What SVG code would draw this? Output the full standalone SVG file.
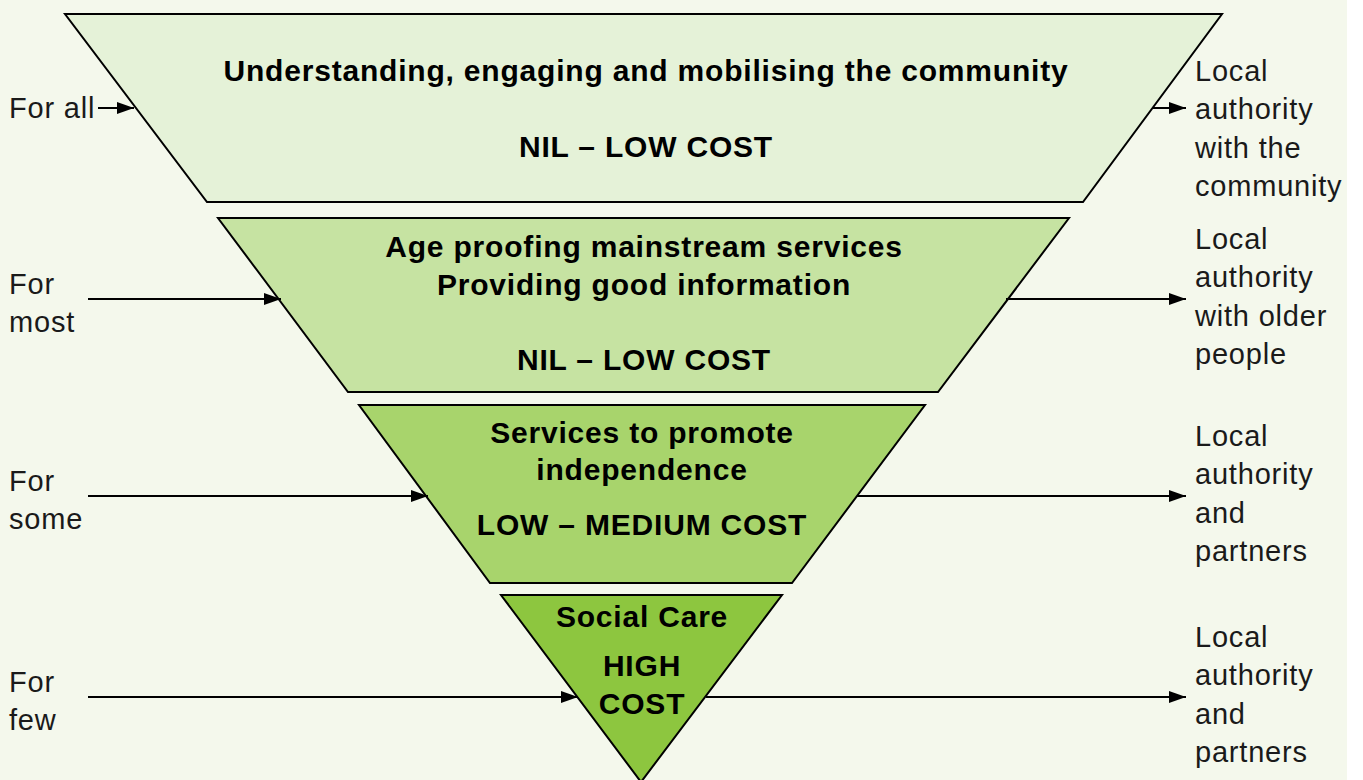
<svg xmlns="http://www.w3.org/2000/svg" width="1363" height="780" viewBox="0 0 1363 780">
<defs>
<marker id="ah" viewBox="0 0 17 12" refX="17" refY="6" markerWidth="17" markerHeight="12" markerUnits="userSpaceOnUse" orient="auto">
<path d="M0,0 L17,6 L0,12 Z" fill="#000"/>
</marker>
<style>
.tier{stroke:#000;stroke-width:2;stroke-linejoin:miter}
.t{font-family:"Liberation Sans",Arial,sans-serif;font-weight:bold;font-size:30px;letter-spacing:0.8px;text-anchor:middle;fill:#000}
.l{font-family:"Liberation Sans",Arial,sans-serif;font-size:29px;letter-spacing:0.8px;fill:#1a1a1a}
.c{stroke:#000;stroke-width:2;fill:none;marker-end:url(#ah)}
</style>
</defs>
<rect x="0" y="0" width="1363" height="780" fill="#fff"/>
<rect x="0" y="0" width="1347" height="780" fill="#f4f8ec"/>
<g id="tier1">
<polygon class="tier" points="65,14 1222,14 1083,202 207,202" fill="#e5f2d8"/>
<text class="t" x="646" y="81">Understanding, engaging and mobilising the community</text>
<text class="t" x="646" y="157">NIL – LOW COST</text>
</g>
<g id="tier2">
<polygon class="tier" points="218,218 1069,218 938,392 348,392" fill="#c6e3a2"/>
<text class="t" x="644" y="257">Age proofing mainstream services</text>
<text class="t" x="644" y="295">Providing good information</text>
<text class="t" x="644" y="370">NIL – LOW COST</text>
</g>
<g id="tier3">
<polygon class="tier" points="359,405 925,405 792,583 490,583" fill="#a8d46c"/>
<text class="t" x="642" y="443">Services to promote</text>
<text class="t" x="642" y="480">independence</text>
<text class="t" x="642" y="535">LOW – MEDIUM COST</text>
</g>
<g id="tier4">
<polygon class="tier" points="501,595 782,595 641,782" fill="#8dc63f"/>
<text class="t" x="642" y="627">Social Care</text>
<text class="t" x="642" y="676">HIGH</text>
<text class="t" x="642" y="714">COST</text>
</g>
<g id="left-labels">
<text class="l" x="9" y="118">For all</text>
<text class="l" x="9" y="294">For</text>
<text class="l" x="9" y="332">most</text>
<text class="l" x="9" y="491">For</text>
<text class="l" x="9" y="529">some</text>
<text class="l" x="9" y="692">For</text>
<text class="l" x="9" y="730">few</text>
</g>
<g id="right-labels">
<text class="l" x="1195" y="81">Local</text>
<text class="l" x="1195" y="119">authority</text>
<text class="l" x="1195" y="158">with the</text>
<text class="l" x="1195" y="196">community</text>
<text class="l" x="1195" y="249">Local</text>
<text class="l" x="1195" y="287">authority</text>
<text class="l" x="1195" y="326">with older</text>
<text class="l" x="1195" y="364">people</text>
<text class="l" x="1195" y="446">Local</text>
<text class="l" x="1195" y="484">authority</text>
<text class="l" x="1195" y="523">and</text>
<text class="l" x="1195" y="561">partners</text>
<text class="l" x="1195" y="647">Local</text>
<text class="l" x="1195" y="685">authority</text>
<text class="l" x="1195" y="724">and</text>
<text class="l" x="1195" y="762">partners</text>
</g>
<g id="connectors">
<line class="c" x1="98" y1="108" x2="134" y2="108"/>
<line class="c" x1="1152" y1="108" x2="1186" y2="108"/>
<line class="c" x1="88" y1="299" x2="281" y2="299"/>
<line class="c" x1="1006" y1="299" x2="1186" y2="299"/>
<line class="c" x1="88" y1="496" x2="428" y2="496"/>
<line class="c" x1="857" y1="496" x2="1186" y2="496"/>
<line class="c" x1="88" y1="697" x2="578" y2="697"/>
<line class="c" x1="706" y1="697" x2="1186" y2="697"/>
</g>
</svg>
